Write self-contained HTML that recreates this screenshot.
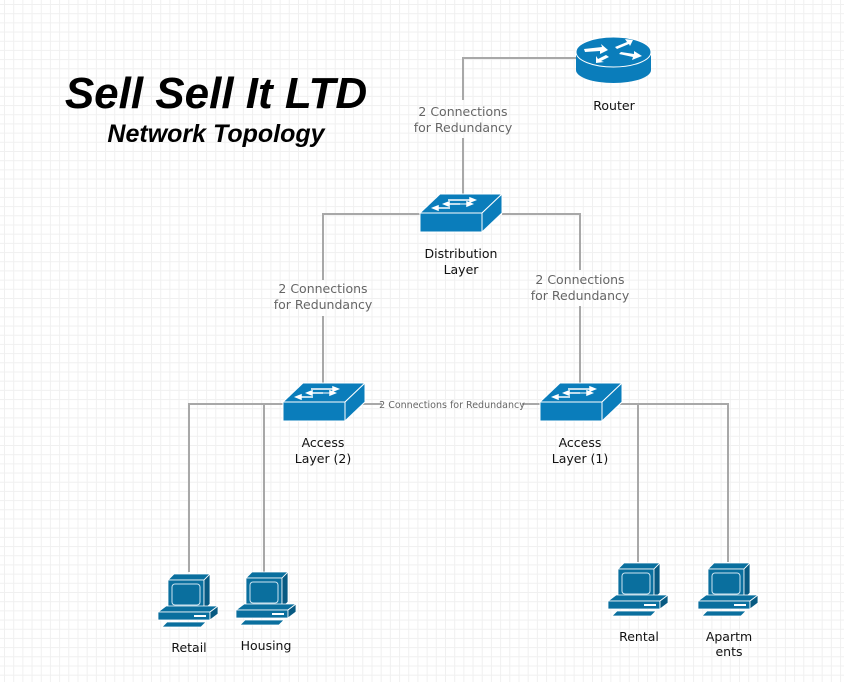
<!DOCTYPE html>
<html><head><meta charset="utf-8"><style>
html,body{margin:0;padding:0;background:#fff;}
body{width:844px;height:682px;overflow:hidden;
background-image:linear-gradient(to right,#f0f0f0 1px,transparent 1px),linear-gradient(to bottom,#f0f0f0 1px,transparent 1px);
background-size:9.2px 9.2px;background-position:4px 4px;}
svg{position:absolute;left:0;top:0;}
text{font-family:"DejaVu Sans","Liberation Sans",sans-serif;}
</style></head><body>
<svg width="844" height="682" viewBox="0 0 844 682">
<defs>
<g id="pc">
  <polygon points="10,8 16,2 52,2 46,8" fill="#0a6f9e" stroke="#fff" stroke-width="0.8"/>
  <rect x="10" y="8" width="36" height="30" fill="#0a6f9e" stroke="#fff" stroke-width="0.8"/>
  <polygon points="46,8 52,2 52,32 46,38" fill="#085a82" stroke="#fff" stroke-width="0.8"/>
  <rect x="14" y="12" width="28" height="21" rx="3" fill="#0a6f9e" stroke="#cfe6f2" stroke-width="1"/>
  <polygon points="0,40 8,34 60,34 52,40" fill="#0a6f9e" stroke="#fff" stroke-width="0.8"/>
  <rect x="0" y="40" width="52" height="8" fill="#0a6f9e" stroke="#fff" stroke-width="0.8"/>
  <polygon points="52,40 60,34 60,42 52,48" fill="#085a82" stroke="#fff" stroke-width="0.8"/>
  <rect x="36" y="43" width="12" height="2" fill="#fff"/>
  <polygon points="4,55 9,50 48,50 43,55" fill="#0a6f9e" stroke="#fff" stroke-width="0.8"/>
</g>
<g id="sw">
  <polygon points="0,19 20,0 82,0 62,19" fill="#0a7dbb" stroke="#fff" stroke-width="1"/>
  <rect x="0" y="19" width="62" height="19" fill="#0a7dbb" stroke="#fff" stroke-width="1"/>
  <polygon points="62,19 82,0 82,19 62,38" fill="#0a7dbb" stroke="#fff" stroke-width="1"/>
  <g stroke="#fff" stroke-width="1.5" fill="#fff">
    <line x1="28" y1="6" x2="52" y2="6"/><polygon points="55,6 50,4 50,8"/>
    <line x1="26" y1="10" x2="40" y2="10"/><polygon points="24,10 29,8 29,12"/>
    <line x1="30" y1="10" x2="50" y2="10" stroke-width="1"/><polygon points="52,10 47,8 47,12"/>
    <line x1="16" y1="14" x2="30" y2="14"/><polygon points="13,14 18,12 18,16"/>
  </g>
</g>
</defs>

<g stroke="#a8a8a8" stroke-width="2" fill="none">
  <polyline points="576,58 463,58 463,100"/>
  <line x1="463" y1="138" x2="463" y2="194"/>
  <polyline points="420,214 323,214 323,280"/>
  <line x1="323" y1="316" x2="323" y2="383"/>
  <polyline points="502,214 580,214 580,270"/>
  <line x1="580" y1="306" x2="580" y2="383"/>
  <line x1="362" y1="404" x2="382" y2="404"/>
  <line x1="522" y1="404" x2="541" y2="404"/>
  <polyline points="285,404 189,404 189,572"/>
  <line x1="264" y1="404" x2="264" y2="572"/>
  <polyline points="620,404 728,404 728,562"/>
  <line x1="638" y1="404" x2="638" y2="562"/>
</g>

<!-- Router -->
<g>
  <path d="M576,52 L576,70 A37.5,13 0 0 0 651,70 L651,52 Z" fill="#0a7dbb"/>
  <ellipse cx="613.5" cy="52" rx="37.5" ry="15" fill="#0a7dbb" stroke="#fff" stroke-width="1"/>
  <g fill="#fff">
    <polygon points="584,49 602,47 601,44 608,50 600,54 600,51 585,52"/>
    <polygon points="615,47 627,42 625,39 633,40 630,46 629,44 617,49"/>
    <polygon points="619,54 633,57 632,60 642,56 634,51 634,54 621,52"/>
    <polygon points="606,55 598,59 596,56 596,63 604,62 601,61 609,57"/>
  </g>
</g>

<use href="#sw" x="420" y="194"/>
<use href="#sw" x="283" y="383"/>
<use href="#sw" x="540" y="383"/>

<use href="#pc" x="158" y="572"/>
<use href="#pc" x="236" y="570"/>
<use href="#pc" x="608" y="561"/>
<use href="#pc" x="698" y="561"/>

<g font-size="12.5" fill="#111" text-anchor="middle">
  <text x="614" y="110">Router</text>
  <text x="461" y="258">Distribution</text>
  <text x="461" y="274">Layer</text>
  <text x="323" y="447">Access</text>
  <text x="323" y="463">Layer (2)</text>
  <text x="580" y="447">Access</text>
  <text x="580" y="463">Layer (1)</text>
  <text x="189" y="652">Retail</text>
  <text x="266" y="650">Housing</text>
  <text x="639" y="641">Rental</text>
  <text x="729" y="641">Apartm</text>
  <text x="729" y="656">ents</text>
</g>
<g font-size="12.5" fill="#666" text-anchor="middle">
  <text x="463" y="116">2 Connections</text>
  <text x="463" y="132">for Redundancy</text>
  <text x="323" y="293">2 Connections</text>
  <text x="323" y="309">for Redundancy</text>
  <text x="580" y="284">2 Connections</text>
  <text x="580" y="300">for Redundancy</text>
  <text x="452" y="408" font-size="9.5">2 Connections for Redundancy</text>
</g>
<g font-weight="bold" font-style="italic" fill="#000" text-anchor="middle">
  <text x="216" y="108" font-size="44" style="font-family:'Liberation Sans',sans-serif">Sell Sell It LTD</text>
  <text x="216" y="142" font-size="25" style="font-family:'Liberation Sans',sans-serif">Network Topology</text>
</g>
</svg>
</body></html>
